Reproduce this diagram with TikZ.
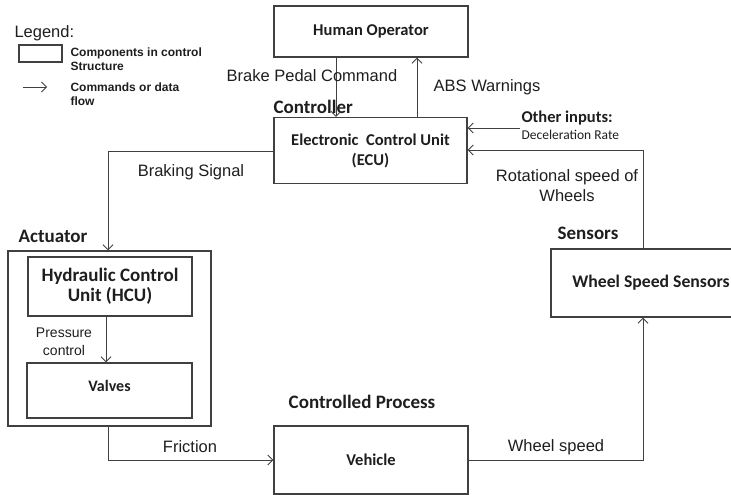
\documentclass[tikz,border=0pt]{standalone}
\usepackage{fontspec}
\setmainfont{Liberation Sans}
\newfontfamily\calib{Carlito}
\usetikzlibrary{arrows.meta}
\definecolor{linegray}{HTML}{404040}
\definecolor{inkgray}{HTML}{1E1E1E}

\begin{document}
\begin{tikzpicture}[x=1pt,y=-1pt,line width=1.1pt,>={Straight Barb[length=5pt,width=10pt]},
  box/.style={draw=linegray,inner sep=0pt,align=center,text=inkgray,font=\calib\bfseries\fontsize{16.5}{20}\selectfont},
  head/.style={inner sep=0pt,text=inkgray,font=\calib\bfseries\fontsize{19}{22}\selectfont},
  txt/.style={inner sep=0pt,align=center,text=inkgray,font=\fontsize{16.5}{20}\selectfont},
  small/.style={inner sep=0pt,align=left,text=inkgray,font=\bfseries\fontsize{12}{14}\selectfont},
  flow/.style={->,draw=linegray,line width=1pt}]
  \useasboundingbox (0,0) rectangle (731,495);
  \clip (0,0) rectangle (731,495);

  % legend
  \node[txt,anchor=west] (legend) at (14,33) {Legend:};
  \node[draw=linegray,line width=1.5pt,minimum width=43pt,minimum height=17pt,inner sep=0pt] (legbox) at (40.5,53.5) {};
  \node[small,anchor=west] (legboxtxt) at (70,59) {Components in control\\Structure};
  \coordinate (lega) at (23,87);
  \coordinate (legb) at (47,87);
  \draw[->,draw=linegray,line width=0.8pt] (lega) -- (legb);
  \node[small,anchor=west] (legflowtxt) at (70,94.5) {Commands or data\\flow};

  % boxes
  \node[box,minimum width=194pt,minimum height=51pt] (human) at (371,31.5) {Human Operator};
  \node[box,minimum width=193pt,minimum height=66pt] (ecu) at (370.5,150.5) {Electronic~~Control Unit\\(ECU)};
  \node[box,minimum width=203pt,minimum height=175pt] (act) at (109.5,338.5) {};
  \node[box,minimum width=164pt,minimum height=59pt,font=\calib\bfseries\fontsize{19}{20}\selectfont] (hcu) at (110,286.5) {Hydraulic Control\\Unit (HCU)};
  \node[box,minimum width=165pt,minimum height=55pt,text depth=9pt,font=\calib\bfseries\fontsize{16}{20}\selectfont] (valves) at (109.5,390.5) {Valves};
  \node[box,minimum width=194pt,minimum height=68pt] (veh) at (371,460) {Vehicle};
  \node[box,minimum width=200pt,minimum height=68pt,font=\calib\bfseries\fontsize{17.7}{20}\selectfont] (wss) at (651,283) {Wheel Speed Sensors};

  % headings
  \node[head,anchor=west] (ctrl) at (273,107) {Controller};
  \node[head,anchor=west] (acth) at (18,236) {Actuator};
  \node[head] (sens) at (588,233) {Sensors};
  \node[head] (proc) at (362,402) {Controlled Process};

  % control and feedback paths
  \draw[flow] ([xshift=-35pt]human.south) -- ([xshift=-34.5pt]ecu.north);
  \draw[flow] ([xshift=46.5pt]ecu.north) -- ([xshift=46pt]human.south);
  \node[txt] (pedal) at (312,76) {Brake Pedal Command};
  \node[txt] (abs) at (487,87) {ABS Warnings};

  \coordinate (oin) at (520,128);
  \draw[flow] (oin) -- (oin -| ecu.east);
  \node[head,anchor=west,font=\calib\bfseries\fontsize{16.5}{20}\selectfont] (other) at (521,118) {Other inputs:};
  \node[inner sep=0pt,anchor=west,text=inkgray,font=\calib\fontsize{13.5}{16}\selectfont] (decel) at (521,135) {Deceleration Rate};

  \coordinate (rturn) at (643,150);
  \draw[flow] (rturn |- wss.north) -- (rturn) -- (rturn -| ecu.east);
  \node[txt] (rot) at (567,186) {Rotational speed of\\Wheels};

  \coordinate (bturn) at (108,151);
  \draw[flow] (bturn -| ecu.west) -- (bturn) -- (bturn |- act.north);
  \node[txt] (brk) at (191,172) {Braking Signal};

  \draw[flow] ([xshift=-4pt]hcu.south) -- ([xshift=-4pt]hcu.south |- valves.north);
  \node[inner sep=0pt,align=center,text=inkgray,font=\fontsize{14}{18}\selectfont] (press) at (64,342) {Pressure\\control};

  \coordinate (fturn) at (108,460);
  \draw[flow] (fturn |- act.south) -- (fturn) -- (veh.west);
  \node[txt] (fric) at (190,447) {Friction};

  \coordinate (wturn) at (643,460);
  \draw[flow] (veh.east) -- (wturn) -- (wturn |- wss.south);
  \node[txt] (wspd) at (556,447) {Wheel speed};
\end{tikzpicture}
\end{document}
